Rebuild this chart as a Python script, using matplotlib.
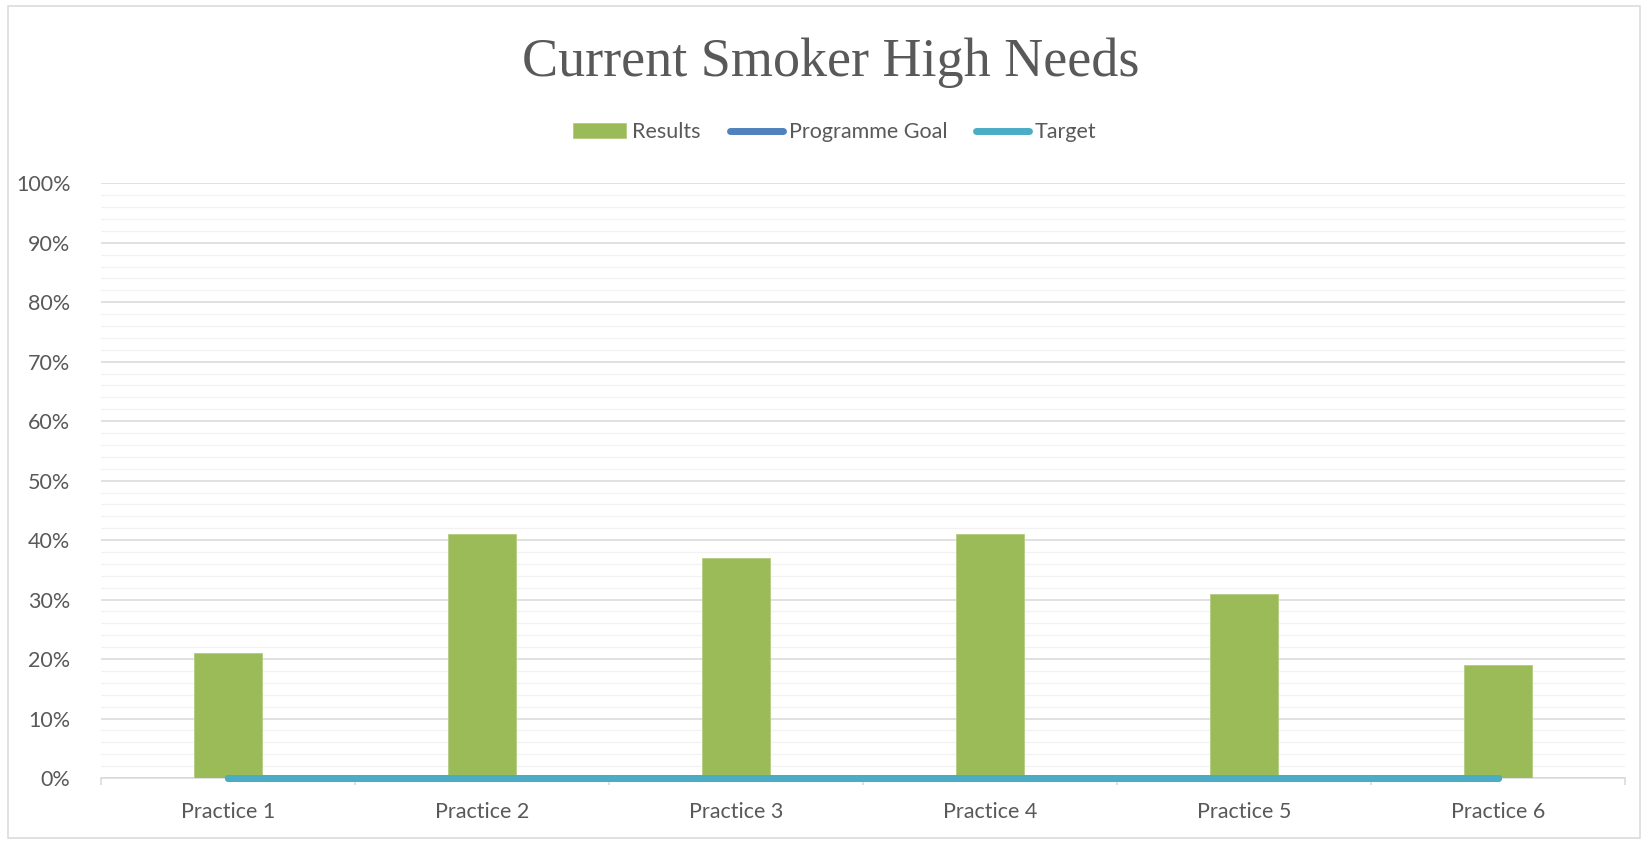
import numpy as np
import matplotlib.pyplot as plt
from matplotlib.patches import Rectangle
from matplotlib.ticker import MultipleLocator, PercentFormatter

practices = ['Practice 1', 'Practice 2', 'Practice 3', 'Practice 4', 'Practice 5', 'Practice 6']
results = [0.21, 0.41, 0.37, 0.41, 0.31, 0.19]
programme_goal = [0, 0, 0, 0, 0, 0]
target = [0, 0, 0, 0, 0, 0]

grey_txt = '#595959'
plt.rcParams['font.family'] = ['Lato', 'DejaVu Sans']

W, H = 1644, 841
fig = plt.figure(figsize=(W/100., H/100.), dpi=100)
ax = fig.add_axes([101/W, 1-778/H, 1524/W, 594.7/H])

x = np.arange(len(practices))
b = ax.bar(x, results, width=0.27, color='#9bbb59', edgecolor='#b5cc80', linewidth=0.6,
           label='Results', zorder=3)
l1, = ax.plot(x, programme_goal, c='#4f81bd', lw=5, solid_capstyle='round',
              label='Programme Goal', zorder=4, clip_on=False)
l2, = ax.plot(x, target, c='#4bacc6', lw=5, solid_capstyle='round', label='Target',
              zorder=5, clip_on=False)

ax.set_xlim(-0.5, len(practices)-0.5)
ax.set_ylim(0, 1)
ax.yaxis.set_major_locator(MultipleLocator(0.1))
ax.yaxis.set_minor_locator(MultipleLocator(0.02))
ax.yaxis.set_major_formatter(PercentFormatter(1.0, decimals=0))
ax.grid(axis='y', which='major', color='#d9d9d9', lw=1.1, zorder=0)
ax.grid(axis='y', which='minor', color='#f2f2f2', lw=0.9, zorder=0)
ax.set_axisbelow(True)

# category boundaries get the ticks, names sit in between
ax.set_xticks(np.arange(-0.5, len(practices)), labels=[''] * (len(practices)+1))
ax.set_xticks(x, labels=practices, minor=True)
ax.tick_params(axis='x', which='major', length=5, width=1.1, color='#d9d9d9')
ax.tick_params(axis='x', which='minor', length=0, pad=17, labelsize=15.5, labelcolor=grey_txt)
ax.tick_params(axis='y', which='both', length=0, pad=22, labelsize=15.5, labelcolor=grey_txt)

for s in ['top', 'right', 'left']:
    ax.spines[s].set_visible(False)
ax.spines['bottom'].set_color('#d9d9d9')
ax.spines['bottom'].set_linewidth(1.1)

fig.text(830.5/W, 1-76/H, 'Current Smoker High Needs', ha='center', va='baseline',
         family='Liberation Serif', fontsize=39, color=grey_txt)

fig.legend([b, l1, l2], ['Results', 'Programme Goal', 'Target'],
           loc='center', bbox_to_anchor=(835/W, 1-132/H), ncol=3, frameon=False,
           fontsize=15.5, labelcolor=grey_txt, handlelength=2.45, handletextpad=0.28,
           columnspacing=1.35, handleheight=0.65)

fig.patches.append(Rectangle((8/W, 3/H), 1632/W, 832/H, transform=fig.transFigure,
                             fill=False, edgecolor='#d9d9d9', lw=1.1))

fig.savefig('out.png', dpi=100)
